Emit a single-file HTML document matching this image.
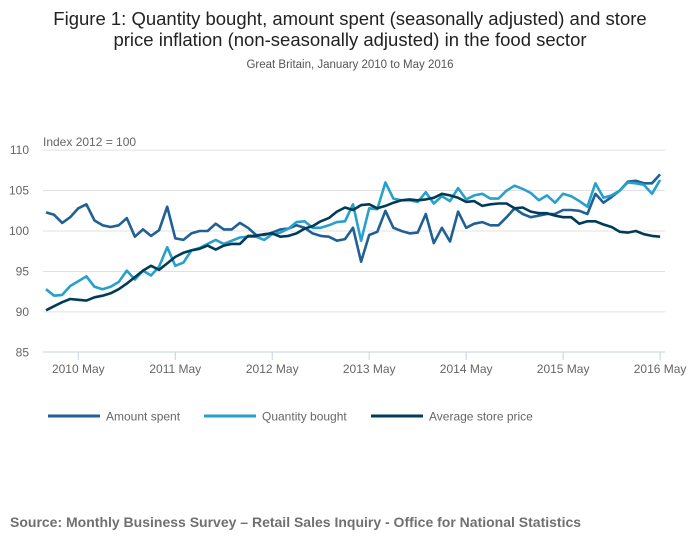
<!DOCTYPE html>
<html><head><meta charset="utf-8"><style>
body{margin:0;background:#fff;font-family:"Liberation Sans",sans-serif;}
svg text{font-family:"Liberation Sans",sans-serif;}
</style></head><body>
<svg width="700" height="549">
<text x="350" y="25" text-anchor="middle" font-size="18.5" fill="#222">Figure 1: Quantity bought, amount spent (seasonally adjusted) and store</text>
<text x="350" y="46" text-anchor="middle" font-size="18.5" fill="#222">price inflation (non-seasonally adjusted) in the food sector</text>
<text x="350" y="68" text-anchor="middle" font-size="11.5" fill="#555">Great Britain, January 2010 to May 2016</text>
<text x="43" y="146" font-size="12" fill="#666">Index 2012 = 100</text>
<g id="grid"></g><g id="xax"></g><g id="lines"></g>
<g>
<line x1="48" y1="416" x2="100" y2="416" stroke="#206095" stroke-width="3"/>
<text x="106" y="420.5" font-size="12" fill="#666">Amount spent</text>
<line x1="204" y1="416" x2="256" y2="416" stroke="#27a0cc" stroke-width="3"/>
<text x="262" y="420.5" font-size="12" fill="#666">Quantity bought</text>
<line x1="371" y1="416" x2="423" y2="416" stroke="#003c57" stroke-width="3"/>
<text x="429" y="420.5" font-size="12" fill="#666">Average store price</text>
</g>
<text x="10" y="527" font-size="14" font-weight="bold" fill="#707071">Source: Monthly Business Survey – Retail Sales Inquiry - Office for National Statistics</text>
</svg>
<script>
const yTicks=[85,90,95,100,105,110];
const xTickLabels=["2010 May","2011 May","2012 May","2013 May","2014 May","2015 May","2016 May"];
const xTickMonths=[4,16,28,40,52,64,76];
const amountSpent=[102.3,102.0,101.0,101.7,102.8,103.3,101.3,100.7,100.5,100.7,101.6,99.3,100.2,99.4,100.1,103.0,99.1,98.9,99.7,100.0,100.0,100.9,100.2,100.2,101.0,100.4,99.5,99.5,99.8,100.2,100.3,100.7,100.4,99.7,99.4,99.3,98.8,99.0,100.4,96.2,99.5,99.9,102.5,100.4,100.0,99.7,99.8,102.1,98.5,100.4,98.7,102.4,100.4,100.9,101.1,100.7,100.7,101.7,102.8,102.1,101.7,101.9,102.1,102.1,102.6,102.6,102.5,102.1,104.6,103.5,104.2,105.0,106.1,106.2,105.9,105.9,107.0];
const quantityBought=[92.8,92.0,92.1,93.2,93.8,94.4,93.1,92.8,93.1,93.7,95.1,94.0,95.1,94.5,95.6,98.0,95.7,96.1,97.6,97.9,98.4,98.9,98.4,98.8,99.2,99.3,99.3,98.9,99.6,99.8,100.3,101.1,101.2,100.4,100.4,100.7,101.1,101.2,103.3,98.8,102.8,102.7,106.0,104.0,103.8,103.8,103.6,104.8,103.4,104.3,103.7,105.3,103.9,104.4,104.6,104.0,104.0,105.0,105.6,105.2,104.7,103.8,104.4,103.5,104.6,104.3,103.7,103.0,105.9,104.1,104.4,105.0,106.0,105.9,105.7,104.6,106.3];
const averagePrice=[90.2,90.7,91.2,91.6,91.5,91.4,91.8,92.0,92.3,92.8,93.5,94.3,95.1,95.7,95.2,96.0,96.8,97.3,97.6,97.8,98.2,97.7,98.2,98.4,98.4,99.4,99.4,99.6,99.7,99.3,99.4,99.7,100.3,100.6,101.2,101.6,102.4,102.9,102.6,103.2,103.3,102.8,103.1,103.5,103.8,103.9,103.8,103.9,104.1,104.6,104.4,104.1,103.6,103.7,103.1,103.3,103.4,103.4,102.8,102.9,102.4,102.2,102.2,101.9,101.7,101.7,100.9,101.2,101.2,100.8,100.5,99.9,99.8,100.0,99.6,99.4,99.3];
const NS="http://www.w3.org/2000/svg";
const X=i=>46+i*8.08, Y=v=>231-(v-100)*8.09;
const grid=document.getElementById('grid'), xax=document.getElementById('xax'), lines=document.getElementById('lines');
yTicks.forEach(t=>{
 if(t>85){const l=document.createElementNS(NS,'line');
 
 
 l.setAttribute('x1',43);l.setAttribute('x2',665);l.setAttribute('y1',Y(t));l.setAttribute('y2',Y(t));l.setAttribute('stroke','#e0e0e0');grid.appendChild(l);}
 const tx=document.createElementNS(NS,'text');
 
 
 tx.setAttribute('x',29);tx.setAttribute('y',Y(t)+4);tx.setAttribute('text-anchor','end');tx.setAttribute('font-size','12');tx.setAttribute('fill','#666');tx.textContent=t;grid.appendChild(tx);
});
const ax=document.createElementNS(NS,'line');


ax.setAttribute('x1',43);ax.setAttribute('x2',665);ax.setAttribute('y1',352);ax.setAttribute('y2',352);ax.setAttribute('stroke','#c6d1e0');xax.appendChild(ax);
xTickLabels.forEach((lb,k)=>{
 const x=X(xTickMonths[k]);
 const tk=document.createElementNS(NS,'line');
 
 
 tk.setAttribute('x1',x);tk.setAttribute('x2',x);tk.setAttribute('y1',352);tk.setAttribute('y2',360);tk.setAttribute('stroke','#c6d1e0');xax.appendChild(tk);
 const tx=document.createElementNS(NS,'text');
 
 
 tx.setAttribute('x',x);tx.setAttribute('y',373);tx.setAttribute('text-anchor','middle');tx.setAttribute('font-size','12');tx.setAttribute('fill','#666');tx.textContent=lb;xax.appendChild(tx);
});
[[amountSpent,'#206095','amount-spent-line'],[quantityBought,'#27a0cc','quantity-bought-line'],[averagePrice,'#003c57','average-store-price-line']].forEach(([d,c,n])=>{
 const p=document.createElementNS(NS,'polyline');
 
 
 p.setAttribute('points',d.map((v,i)=>X(i).toFixed(1)+','+Y(v).toFixed(1)).join(' '));
 p.setAttribute('fill','none');p.setAttribute('stroke',c);p.setAttribute('stroke-width','2.6');p.setAttribute('stroke-linejoin','round');
 lines.appendChild(p);
});
</script>
</body></html>
